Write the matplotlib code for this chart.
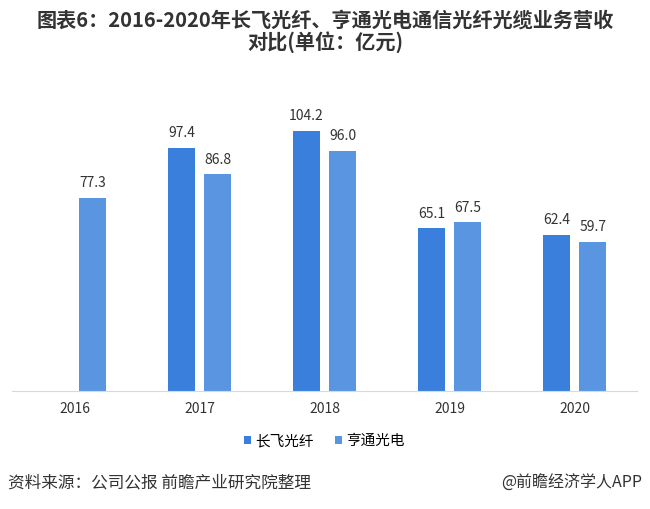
import numpy as np
import matplotlib.pyplot as plt

plt.rcParams['font.family'] = ['Noto Sans CJK SC', 'DejaVu Sans']

years = ['2016', '2017', '2018', '2019', '2020']
changfei = [np.nan, 97.4, 104.2, 65.1, 62.4]
hengtong = [77.3, 86.8, 96.0, 67.5, 59.7]

c_cf = '#3b7fdc'
c_ht = '#5a95e2'

fig = plt.figure(figsize=(6.5, 5.09), dpi=100)
ax = fig.add_axes([12 / 650, 1 - 391 / 509, 625 / 650, 300 / 509])

x = np.arange(len(years))
w = 0.22
off = 0.145
ax.bar(x - off, changfei, w, color=c_cf, label='长飞光纤')
ax.bar(x + off, hengtong, w, color=c_ht, label='亨通光电')

for xs, vals in ((x - off, changfei), (x + off, hengtong)):
    for xi, v in zip(xs, vals):
        if np.isnan(v):
            continue
        ax.text(xi, v + 3, f'{v:.1f}', ha='center', va='bottom', fontsize=10, color='#333333')

ax.set_xlim(-0.5, len(years) - 0.5)
ax.set_ylim(0, 120)
ax.set_xticks(x)
ax.set_xticklabels(years, fontsize=10, color='#333333')
ax.set_yticks([])
ax.tick_params(axis='x', length=0, pad=8)
for s in ('top', 'right', 'left'):
    ax.spines[s].set_visible(False)
ax.spines['bottom'].set_color('#d9d9d9')

ax.legend(loc='upper center', bbox_to_anchor=(0.5, -0.1), ncol=2, frameon=False,
          fontsize=10.5, handlelength=0.45, handleheight=0.45, handletextpad=0.3,
          columnspacing=1.5)

fig.text(0.5, 1 - 10 / 509, '图表6：2016-2020年长飞光纤、亨通光电通信光纤光缆业务营收\n对比(单位：亿元)',
         ha='center', va='top', fontsize=14.5, fontweight='bold', color='#333333',
         linespacing=1.0)
fig.text(8 / 650, 1 - 483 / 509, '资料来源：公司公报 前瞻产业研究院整理', ha='left', va='center',
         fontsize=12, color='#333333')
fig.text(642 / 650, 1 - 483 / 509, '@前瞻经济学人APP', ha='right', va='center',
         fontsize=11.5, color='#333333')

fig.savefig('out.png', dpi=100)
